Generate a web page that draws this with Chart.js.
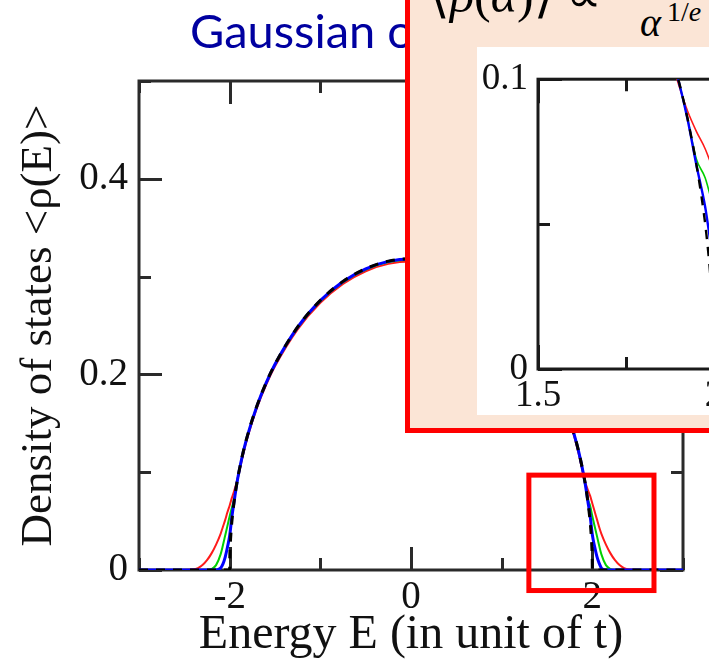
<!DOCTYPE html>
<html>
<head>
<meta charset="utf-8">
<script src="https://cdn.jsdelivr.net/npm/chart.js@4/dist/chart.umd.min.js"></script>
<style>
  html, body { margin: 0; padding: 0; background: #fff; overflow: hidden; }
  #wrap { position: relative; width: 709px; height: 667px; overflow: hidden; background: #fff; }
  #main { position: absolute; left: 0; top: 0; }
  #insetBox { position: absolute; left: 405px; top: -20px; width: 340px; height: 443px;
              background: #FBE5D6; border: 5px solid #ff0000; }
  #inset { position: absolute; left: 477px; top: 47px; background: #fff; }
  .eq { position: absolute; white-space: nowrap; color: #000; font-family: 'Liberation Serif', serif; }
  .eq i { font-style: italic; }
</style>
</head>
<body>
<div id="wrap">
  <canvas id="main" width="709" height="667"></canvas>
  <div id="insetBox"></div>
  <canvas id="inset" width="441" height="368"></canvas>
  <div class="eq" style="left:430px; top:-30px; font-size:50px; line-height:50px;">⟨<i>ρ</i>(<i>α</i>)⟩ ∝</div>
  <div class="eq" style="left:640px; top:3px; font-size:40px; line-height:40px;"><i>α</i></div>
  <div class="eq" style="left:667px; top:-2px; font-size:28px; line-height:28px;">1/<i>e</i></div>
</div>
<script>
// ---- data: averaged density of states <rho(E)> for growing system size ----
const energy = [-3.0, -2.5, -2.4, -2.35, -2.3, -2.25, -2.2, -2.15, -2.1, -2.075, -2.05, -2.025,
  -2.0, -1.975, -1.95, -1.925, -1.9, -1.85, -1.8, -1.7, -1.6, -1.5, -1.25, -1.0, -0.75, -0.5, -0.25,
  0, 0.25, 0.5, 0.75, 1.0, 1.25, 1.5, 1.6, 1.7, 1.8, 1.85, 1.9, 1.925, 1.95, 1.975, 2.0,
  2.025, 2.05, 2.075, 2.1, 2.15, 2.2, 2.25, 2.3, 2.35, 2.4, 2.5, 3.0];

const densityRed = [0, 0, 0.0005, 0.002, 0.005, 0.010, 0.017, 0.026, 0.037, 0.044, 0.051, 0.059,
  0.066, 0.074, 0.081, 0.089, 0.098, 0.1185, 0.1365, 0.1655, 0.1888, 0.2082, 0.2460, 0.2732, 0.2925, 0.3055, 0.3130,
  0.3155, 0.3130, 0.3055, 0.2925, 0.2732, 0.2460, 0.2082, 0.1888, 0.1655, 0.1365, 0.1185, 0.098, 0.089, 0.082, 0.076, 0.068,
  0.060, 0.052, 0.044, 0.037, 0.026, 0.017, 0.010, 0.005, 0.002, 0.0005, 0, 0];

const densityGreen = [0, 0, 0, 0, 0, 0, 0.001, 0.005, 0.016, 0.025, 0.035, 0.045,
  0.055, 0.064, 0.073, 0.0865, 0.0992, 0.1205, 0.1383, 0.1672, 0.1905, 0.2100, 0.2478, 0.2750, 0.2943, 0.3073, 0.3148,
  0.3173, 0.3148, 0.3073, 0.2943, 0.2750, 0.2478, 0.2100, 0.1905, 0.1672, 0.1383, 0.1205, 0.0992, 0.0865, 0.0725, 0.066, 0.055,
  0.045, 0.035, 0.025, 0.016, 0.005, 0.001, 0, 0, 0, 0, 0, 0];

const densityBlue = [0, 0, 0, 0, 0, 0, 0, 0, 0.002, 0.006, 0.013, 0.023,
  0.035, 0.055, 0.0705, 0.0862, 0.0992, 0.1208, 0.1385, 0.1675, 0.1908, 0.2103, 0.2483, 0.2755, 0.2949, 0.3080, 0.3156,
  0.3181, 0.3156, 0.3080, 0.2949, 0.2755, 0.2483, 0.2103, 0.1908, 0.1675, 0.1385, 0.1208, 0.0992, 0.0862, 0.0705, 0.056, 0.036,
  0.024, 0.014, 0.007, 0.002, 0, 0, 0, 0, 0, 0, 0, 0];

// semicircle (infinite size) with a sharp band edge at |E| = 2
const energyExact = [-3.0, -2.0, -1.999, -1.995, -1.99, -1.98, -1.97, -1.95, -1.925, -1.9, -1.85, -1.8,
  -1.7, -1.6, -1.5, -1.25, -1.0, -0.75, -0.5, -0.25, 0, 0.25, 0.5, 0.75, 1.0, 1.25, 1.5, 1.6, 1.7,
  1.8, 1.85, 1.9, 1.925, 1.95, 1.97, 1.98, 1.99, 1.995, 1.999, 2.0, 3.0];
const densityExact = [0, 0, 0.0101, 0.0225, 0.0318, 0.0449, 0.0549, 0.0707, 0.0864, 0.0994, 0.1210, 0.1387,
  0.1677, 0.1910, 0.2105, 0.2485, 0.2757, 0.2951, 0.3082, 0.3158, 0.3183, 0.3158, 0.3082, 0.2951, 0.2757, 0.2485, 0.2105, 0.1910, 0.1677,
  0.1387, 0.1210, 0.0994, 0.0864, 0.0707, 0.0549, 0.0449, 0.0318, 0.0225, 0.0101, 0, 0];

// tick labels
const mainXLabels = [-2, 0, 2];
const mainYLabels = [0, 0.2, 0.4];
const insetXLabels = [1.5, 2, 2.5];
const insetYLabels = [0, 0.1];

// region of the main panel magnified in the inset
const zoomRegion = { eMin: 1.3, eMax: 2.68, rhoMin: -0.021, rhoMax: 0.097 };

const titleText = 'Gaussian orthogonal ensemble';

// ---- helpers ----
const pts = (xs, ys) => xs.map((x, i) => ({ x, y: ys[i] }));
const pick = (list) => (v) => {
  const hit = list.find(l => Math.abs(l - v) < 1e-9);
  return hit === undefined ? '' : String(hit);
};

function makeDatasets(scale) {
  return [
    { label: 'exact', data: pts(energyExact, densityExact), borderColor: '#000000',
      borderWidth: 3 * scale, borderDash: [9, 8] },
    { label: 'N3', data: pts(energy, densityBlue), borderColor: '#0000ff', borderWidth: 3 * scale },
    { label: 'N2', data: pts(energy, densityGreen), borderColor: '#00d000', borderWidth: 2 * scale },
    { label: 'N1', data: pts(energy, densityRed), borderColor: '#ff1a1a', borderWidth: 2 * scale }
  ];
}

// closed frame with inward ticks on all four sides (long at labelled values)
const frameTicks = {
  id: 'frameTicks',
  beforeDatasetsDraw(chart, args, o) {
    const { ctx, chartArea: a, scales: { x, y } } = chart;
    ctx.save();
    ctx.strokeStyle = o.color;
    ctx.lineWidth = o.width;
    ctx.lineCap = 'butt';
    ctx.beginPath();
    for (const t of x.ticks) {
      const px = Math.round(x.getPixelForValue(t.value)) + 0.5;
      const len = t.label !== '' ? o.major : o.minor;
      ctx.moveTo(px, a.bottom); ctx.lineTo(px, a.bottom - len);
      ctx.moveTo(px, a.top); ctx.lineTo(px, a.top + len);
    }
    for (const t of y.ticks) {
      const py = Math.round(y.getPixelForValue(t.value)) + 0.5;
      const len = t.label !== '' ? o.major : o.minor;
      ctx.moveTo(a.left, py); ctx.lineTo(a.left + len, py);
      ctx.moveTo(a.right, py); ctx.lineTo(a.right - len, py);
    }
    ctx.stroke();
    ctx.strokeRect(a.left, a.top, a.right - a.left, a.bottom - a.top);
    ctx.restore();
  }
};

// red rectangle marking the magnified region
const zoomFrame = {
  id: 'zoomFrame',
  afterDatasetsDraw(chart) {
    const { ctx, scales: { x, y } } = chart;
    const l = x.getPixelForValue(zoomRegion.eMin), r = x.getPixelForValue(zoomRegion.eMax);
    const t = y.getPixelForValue(zoomRegion.rhoMax), b = y.getPixelForValue(zoomRegion.rhoMin);
    ctx.save();
    ctx.strokeStyle = '#ff0000';
    ctx.lineWidth = 5;
    ctx.strokeRect(l, t, r - l, b - t);
    ctx.restore();
  }
};

// slide title
const slideTitle = {
  id: 'slideTitle',
  afterDraw(chart) {
    const { ctx } = chart;
    ctx.save();
    ctx.font = '47px Lato, "Open Sans", sans-serif';
    ctx.fillStyle = '#0000A0';
    ctx.textBaseline = 'alphabetic';
    ctx.fillText(titleText, 190, 48);
    ctx.restore();
  }
};

const serif = 'Liberation Serif';
const ink = '#111111';

new Chart(document.getElementById('main'), {
  type: 'line',
  data: { datasets: makeDatasets(1) },
  plugins: [frameTicks, zoomFrame, slideTitle],
  options: {
    responsive: false,
    animation: false,
    devicePixelRatio: 1,
    layout: { padding: { top: 81, right: 26, left: 0, bottom: 0 } },
    elements: { point: { radius: 0 }, line: { cubicInterpolationMode: 'monotone', fill: false } },
    plugins: {
      legend: { display: false },
      tooltip: { enabled: false },
      frameTicks: { color: '#2a2a2a', width: 3, major: 23, minor: 12 }
    },
    scales: {
      x: {
        type: 'linear', min: -3, max: 3,
        afterFit: s => { s.height = 97; },
        grid: { display: false, drawTicks: false },
        border: { display: false },
        ticks: { stepSize: 1, autoSkip: false, maxRotation: 0, padding: 4,
                 color: ink, font: { family: serif, size: 39 }, callback: pick(mainXLabels) },
        title: { display: true, text: 'Energy E (in unit of t)', color: ink,
                 font: { family: serif, size: 48 }, padding: { top: 0, bottom: 3 } }
      },
      y: {
        type: 'linear', min: 0, max: 0.5,
        afterFit: s => { s.width = 139; },
        grid: { display: false, drawTicks: false },
        border: { display: false },
        ticks: { stepSize: 0.1, autoSkip: false, padding: 11,
                 color: ink, font: { family: serif, size: 39 }, callback: pick(mainYLabels) },
        title: { display: true, text: 'Density of states <ρ(E)>', color: ink,
                 font: { family: serif, size: 45 }, padding: { top: 12, bottom: 0 } }
      }
    }
  }
});

new Chart(document.getElementById('inset'), {
  type: 'line',
  data: { datasets: makeDatasets(0.8) },
  plugins: [frameTicks],
  options: {
    responsive: false,
    animation: false,
    devicePixelRatio: 1,
    layout: { padding: { top: 15, right: 20, left: 0, bottom: 0 } },
    elements: { point: { radius: 0 }, line: { cubicInterpolationMode: 'monotone', fill: false } },
    plugins: {
      legend: { display: false },
      tooltip: { enabled: false },
      frameTicks: { color: '#1a1a1a', width: 3, major: 24, minor: 12 }
    },
    scales: {
      x: {
        type: 'linear', min: 1.5, max: 2.5,
        afterFit: s => { s.height = 46; },
        grid: { display: false, drawTicks: false },
        border: { display: false },
        ticks: { stepSize: 0.25, autoSkip: false, maxRotation: 0, padding: 5,
                 color: ink, font: { family: serif, size: 37 }, callback: pick(insetXLabels) }
      },
      y: {
        type: 'linear', min: 0, max: 0.1,
        afterFit: s => { s.width = 61; },
        grid: { display: false, drawTicks: false },
        border: { display: false },
        ticks: { stepSize: 0.05, autoSkip: false, padding: 10,
                 color: ink, font: { family: serif, size: 37 }, callback: pick(insetYLabels) }
      }
    }
  }
});
</script>
</body>
</html>
